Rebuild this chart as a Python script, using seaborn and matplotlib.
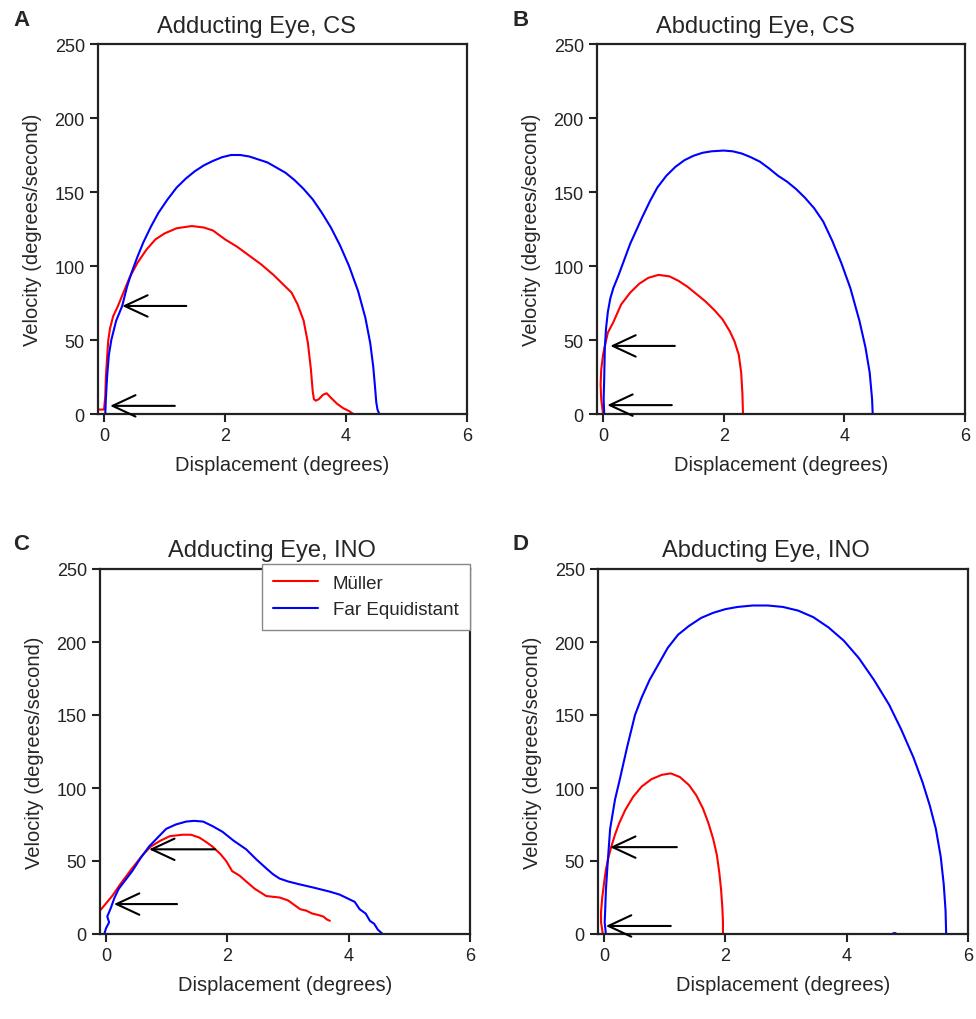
import matplotlib
matplotlib.use('Agg')
import matplotlib.pyplot as plt
import seaborn as sns

# ---- data (displacement in degrees, velocity in deg/s) ----
# Panel A: adducting eye, CS
a_red_x = [-0.08, -0.02, 0.0, 0.02, 0.03, 0.05, 0.07, 0.1, 0.15, 0.23, 0.32, 0.42, 0.55, 0.7, 0.85,
           1.0, 1.2, 1.45, 1.65, 1.8, 2.0, 2.2, 2.4, 2.6, 2.8, 2.95, 3.1, 3.2, 3.3, 3.37, 3.42,
           3.45, 3.47, 3.5, 3.55, 3.62, 3.68, 3.75, 3.85, 3.95, 4.05, 4.12]
a_red_y = [3, 3, 3, 12, 25, 38, 50, 58, 66, 73, 82, 92, 102, 111, 118,
           122, 125.5, 127, 126, 124, 118, 113, 107, 101, 94, 88, 82, 74, 63, 48, 30,
           15, 10, 9, 10, 13, 14, 11, 7, 4, 2, 0]
a_blue_x = [0.02, 0.03, 0.05, 0.08, 0.12, 0.2, 0.3, 0.38, 0.45, 0.55, 0.65, 0.78, 0.9, 1.05, 1.2,
            1.35, 1.5, 1.65, 1.8, 1.95, 2.1, 2.25, 2.4, 2.55, 2.7, 2.85, 3.0, 3.15, 3.3, 3.45,
            3.6, 3.75, 3.9, 4.05, 4.2, 4.32, 4.4, 4.45, 4.48, 4.5, 4.52, 4.55]
a_blue_y = [0, 10, 25, 40, 50, 63, 73, 86, 95, 106, 116, 127, 136, 145, 153,
            159, 164, 168, 171, 173.5, 175, 175, 174, 172, 170, 166.5, 163, 158, 152, 145,
            136, 126, 114, 100, 83, 65, 48, 32, 18, 8, 3, 0]

# Panel B: abducting eye, CS
b_red_x = [0.0, -0.03, -0.04, -0.03, 0.0, 0.03, 0.08, 0.17, 0.3, 0.45, 0.6, 0.75, 0.92, 1.1, 1.25,
           1.4, 1.55, 1.7, 1.85, 1.98, 2.1, 2.18, 2.25, 2.29, 2.31, 2.32]
b_red_y = [0, 10, 20, 30, 40, 46, 55, 62, 74, 82, 88, 92, 94, 93, 90,
           86, 81, 76, 70, 64, 56, 49, 40, 28, 14, 0]
b_blue_x = [0.02, 0.01, 0.02, 0.03, 0.05, 0.08, 0.12, 0.17, 0.25, 0.35, 0.45, 0.55, 0.65, 0.78,
            0.9, 1.05, 1.2, 1.35, 1.5, 1.65, 1.8, 2.0, 2.15, 2.3, 2.45, 2.6, 2.75, 2.9, 3.05,
            3.2, 3.35, 3.5, 3.65, 3.8, 3.95, 4.1, 4.25, 4.35, 4.42, 4.46, 4.47]
b_blue_y = [0, 10, 25, 45, 58, 69, 78, 85, 93, 104, 115, 124, 133, 144,
            153, 161, 167, 171.5, 174.5, 176.5, 177.5, 178, 177.5, 176, 173.5, 170.5, 166, 161, 157,
            152, 146, 139, 130, 117, 102, 85, 63, 45, 28, 10, 0]

# Panel C: adducting eye, INO
c_red_x = [-0.1, 0.0, 0.1, 0.25, 0.43, 0.6, 0.74, 0.9, 1.05, 1.26, 1.4, 1.54, 1.65, 1.75, 1.88,
           1.98, 2.08, 2.2, 2.31, 2.45, 2.64, 2.86, 3.0, 3.1, 3.2, 3.3, 3.4, 3.5, 3.58, 3.64, 3.69]
c_red_y = [16, 21, 26, 35, 45, 54, 60, 64, 67, 68, 68, 66, 63, 60, 55,
           50, 43, 40, 36, 31, 26, 25, 23, 20, 17, 16, 14, 13, 12, 10, 9]
c_blue_x = [-0.03, 0.0, 0.05, 0.02, 0.08, 0.14, 0.21, 0.32, 0.43, 0.57, 0.71, 0.85, 0.99, 1.15,
            1.32, 1.45, 1.6, 1.75, 1.92, 2.1, 2.31, 2.48, 2.64, 2.75, 2.86, 3.0, 3.19, 3.4, 3.69,
            3.85, 4.0, 4.1, 4.18, 4.28, 4.35, 4.42, 4.48, 4.56]
c_blue_y = [0, 4, 8, 12, 18, 25, 31, 37, 43, 52, 60, 66, 72, 75,
            77, 77.5, 77, 74, 70, 64, 58, 51, 45, 41, 38, 36, 34, 32, 29,
            27, 24, 22, 17, 14, 9, 7, 3, 0]

# Panel D: abducting eye, INO
d_red_x = [-0.02, -0.05, -0.05, -0.03, 0.0, 0.03, 0.07, 0.12, 0.18, 0.25, 0.35, 0.48, 0.62, 0.78,
           0.95, 1.1, 1.25, 1.4, 1.52, 1.63, 1.72, 1.8, 1.86, 1.9, 1.93, 1.95, 1.96, 1.96]
d_red_y = [0, 8, 15, 25, 35, 44, 52, 60, 68, 76, 85, 94, 101, 106,
           109, 110, 107.5, 102, 95, 86, 76, 65, 54, 42, 30, 18, 8, 0]
d_blue_x = [0.03, 0.01, 0.02, 0.03, 0.06, 0.1, 0.18, 0.26, 0.38, 0.51, 0.62, 0.75, 0.9, 1.05,
            1.22, 1.4, 1.6, 1.8, 2.0, 2.2, 2.45, 2.7, 2.95, 3.2, 3.45, 3.7, 3.95, 4.2, 4.45,
            4.7, 4.9, 5.1, 5.25, 5.37, 5.47, 5.55, 5.6, 5.63, 5.64]
d_blue_y = [0, 8, 18, 30, 49, 72, 92, 106, 128, 150, 162, 174, 185, 196,
            205, 211, 216.5, 220, 222.5, 224, 225, 225, 224, 221.5, 217, 210, 201, 189, 174,
            157, 140, 121, 104, 88, 72, 53, 34, 16, 0]
d_blip_x = [4.76, 4.80]
d_blip_y = [0.8, 0.8]

# arrows: (tail_x, tail_y, head_x, head_y)
a_arrows = [(1.36, 73, 0.3, 73), (1.17, 5.5, 0.1, 5.5)]
b_arrows = [(1.19, 46, 0.12, 46), (1.14, 6, 0.07, 6)]
c_arrows = [(1.8, 58, 0.71, 58), (1.17, 20.5, 0.13, 20.5)]
d_arrows = [(1.2, 59.5, 0.1, 59.5), (1.1, 5.5, 0.03, 5.5)]

titles = ['Adducting Eye, CS', 'Abducting Eye, CS', 'Adducting Eye, INO', 'Abducting Eye, INO']
title_x = [0.43, 0.43, 0.465, 0.455]
letters = ['A', 'B', 'C', 'D']
series_names = ['Müller', 'Far Equidistant']

RED = '#ff0000'
BLUE = '#0000ff'


def setup_style():
    sns.set_style('ticks')
    plt.rcParams['font.family'] = ['Liberation Sans', 'DejaVu Sans']


def draw_panel(ax, red, blue, arrows, title, tx, with_legend=False):
    sns.lineplot(x=red[0], y=red[1], sort=False, estimator=None, color=RED, lw=1.5,
                 ax=ax, label=series_names[0] if with_legend else None)
    sns.lineplot(x=blue[0], y=blue[1], sort=False, estimator=None, color=BLUE, lw=1.5,
                 ax=ax, label=series_names[1] if with_legend else None)
    for ax_t, ay_t, hx, hy in arrows:
        ax.annotate('', xy=(hx, hy), xytext=(ax_t, ay_t),
                    arrowprops=dict(arrowstyle='->,head_length=0.75,head_width=0.35',
                                    lw=1.5, color='black', mutation_scale=22,
                                    shrinkA=0, shrinkB=0))
    ax.set_xlim(-0.1, 6)
    ax.set_ylim(0, 250)
    ax.set_xticks([0, 2, 4, 6])
    ax.set_yticks([0, 50, 100, 150, 200, 250])
    ax.tick_params(direction='out', length=6, width=1.5, labelsize=13, colors='#222222')
    for sp in ax.spines.values():
        sp.set_linewidth(1.6)
        sp.set_color('#222222')
    ax.set_xlabel('Displacement (degrees)', fontsize=14.5, labelpad=8)
    ax.set_ylabel('Velocity (degrees/second)', fontsize=14.5, labelpad=9)
    ax.set_title(title, fontsize=17, pad=9, x=tx)
    if with_legend:
        leg = ax.legend(loc='upper right', bbox_to_anchor=(1.0, 1.015), fontsize=13.5,
                        fancybox=False, edgecolor='#888888', framealpha=1,
                        borderaxespad=0, handlelength=2.4, borderpad=0.6)
        leg.get_frame().set_linewidth(1.0)
    elif ax.get_legend() is not None:
        ax.get_legend().remove()


setup_style()
fig = plt.figure(figsize=(9.76, 10.2), dpi=100)

W, H = 976.0, 1020.0
boxes = [(98, 45, 467, 415), (597, 45, 965, 415), (100, 570, 470, 935), (598, 570, 968, 935)]
axes = []
for (l, t, r, b) in boxes:
    axes.append(fig.add_axes([l / W, (H - b) / H, (r - l) / W, (b - t) / H]))

draw_panel(axes[0], (a_red_x, a_red_y), (a_blue_x, a_blue_y), a_arrows, titles[0], title_x[0])
draw_panel(axes[1], (b_red_x, b_red_y), (b_blue_x, b_blue_y), b_arrows, titles[1], title_x[1])
draw_panel(axes[2], (c_red_x, c_red_y), (c_blue_x, c_blue_y), c_arrows, titles[2], title_x[2],
           with_legend=True)
draw_panel(axes[3], (d_red_x, d_red_y), (d_blue_x, d_blue_y), d_arrows, titles[3], title_x[3])
axes[3].plot(d_blip_x, d_blip_y, color=BLUE, lw=2)

letter_pos = [(13, 20), (513, 20), (13, 545), (513, 545)]
for (px, py), lt in zip(letter_pos, letters):
    fig.text(px / W, 1 - py / H, lt, fontsize=16, fontweight='bold', va='center', ha='left')

fig.savefig('out.png', dpi=100)
